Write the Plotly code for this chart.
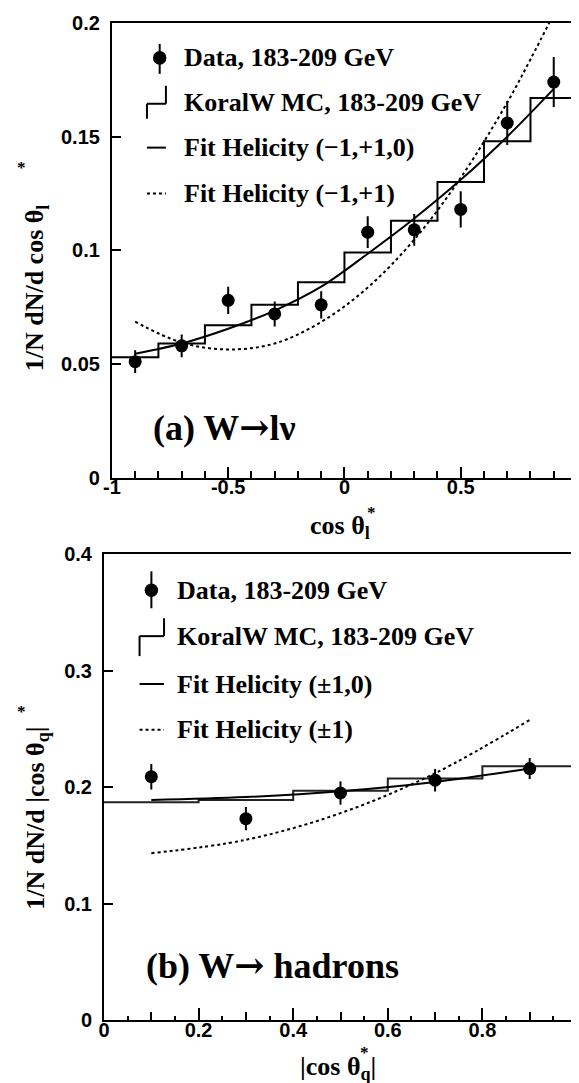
import plotly.graph_objects as go

# ---------------- data: panel (a) W -> l nu ----------------
a_x = [-0.9, -0.7, -0.5, -0.3, -0.1, 0.1, 0.3, 0.5, 0.7, 0.9]
a_data = [0.051, 0.058, 0.078, 0.072, 0.076, 0.108, 0.109, 0.118, 0.156, 0.174]
a_err = [0.005, 0.005, 0.006, 0.0055, 0.006, 0.007, 0.007, 0.008, 0.0097, 0.011]
a_edges = [-1.0, -0.8, -0.6, -0.4, -0.2, 0.0, 0.2, 0.4, 0.6, 0.8, 1.0]
a_mc = [0.053, 0.059, 0.067, 0.076, 0.086, 0.099, 0.113, 0.130, 0.148, 0.167]
a_fit3 = [0.0545, 0.059, 0.0655, 0.0735, 0.084, 0.0985, 0.114, 0.131, 0.150, 0.171]
a_fit2_x = [-0.9, -0.7, -0.5, -0.3, -0.1, 0.1, 0.3, 0.5, 0.7, 0.8, 0.9]
a_fit2 = [0.0686, 0.0594, 0.0564, 0.0590, 0.0685, 0.0836, 0.1047, 0.1319, 0.165, 0.184, 0.204]

# ---------------- data: panel (b) W -> hadrons ----------------
b_x = [0.1, 0.3, 0.5, 0.7, 0.9]
b_data = [0.209, 0.173, 0.195, 0.206, 0.216]
b_err = [0.011, 0.010, 0.010, 0.0097, 0.009]
b_edges = [0.0, 0.2, 0.4, 0.6, 0.8, 1.0]
b_mc = [0.187, 0.189, 0.197, 0.2075, 0.218]
b_fit2 = [0.189, 0.1915, 0.1965, 0.2045, 0.216]
b_fit1 = [0.1433, 0.1548, 0.1777, 0.212, 0.2578]

a_ticks = [-1, -0.5, 0, 0.5, 1]
a_ticktext = ["-1", "-0.5", "0", "0.5", "1"]
a_yticks = [0, 0.05, 0.1, 0.15, 0.2]
a_yticktext = ["0", "0.05", "0.1", "0.15", "0.2"]
b_ticks = [0, 0.2, 0.4, 0.6, 0.8, 1]
b_ticktext = ["0", "0.2", "0.4", "0.6", "0.8", "1"]
b_yticks = [0, 0.1, 0.2, 0.3, 0.4]
b_yticktext = ["0", "0.1", "0.2", "0.3", "0.4"]

# ---------------- geometry (pixels) ----------------
W, H = 579, 1083
ML, MR, MT, MB = 96, 4, 12, 71
PW, PH = W - ML - MR, H - MT - MB


def px(X):
    return (X - ML) / PW


def py(Y):
    return (H - MB - Y) / PH


SERIF = "Liberation Serif"
SANS = "Liberation Sans"
ARROW = '<span style="font-family:DejaVu Serif">\u2192</span>'

fig = go.Figure()


def hist_xy(edges, vals):
    return list(edges), list(vals) + [vals[-1]]


# panel (a)
hx, hy = hist_xy(a_edges, a_mc)
fig.add_trace(go.Scatter(x=hx, y=hy, mode="lines", line=dict(color="black", width=2, shape="hv"),
                         xaxis="x", yaxis="y", showlegend=False, hoverinfo="skip"))
fig.add_trace(go.Scatter(x=a_x, y=a_fit3, mode="lines", line=dict(color="black", width=2, shape="spline"),
                         xaxis="x", yaxis="y", showlegend=False))
fig.add_trace(go.Scatter(x=a_fit2_x, y=a_fit2, mode="lines",
                         line=dict(color="black", width=2, dash="3px,3px", shape="spline"),
                         xaxis="x", yaxis="y", showlegend=False))
fig.add_trace(go.Scatter(x=a_x, y=a_data, mode="markers", marker=dict(color="black", size=13),
                         error_y=dict(type="data", array=a_err, thickness=2, width=0, color="black"),
                         xaxis="x", yaxis="y", showlegend=False))

# panel (b)
hx, hy = hist_xy(b_edges, b_mc)
fig.add_trace(go.Scatter(x=hx, y=hy, mode="lines", line=dict(color="#222222", width=2, shape="hv"),
                         xaxis="x2", yaxis="y2", showlegend=False, hoverinfo="skip"))
fig.add_trace(go.Scatter(x=b_x, y=b_fit2, mode="lines", line=dict(color="black", width=2, shape="spline"),
                         xaxis="x2", yaxis="y2", showlegend=False))
fig.add_trace(go.Scatter(x=b_x, y=b_fit1, mode="lines",
                         line=dict(color="black", width=2, dash="3px,3px", shape="spline"),
                         xaxis="x2", yaxis="y2", showlegend=False))
fig.add_trace(go.Scatter(x=b_x, y=b_data, mode="markers", marker=dict(color="black", size=13),
                         error_y=dict(type="data", array=b_err, thickness=2, width=0, color="black"),
                         xaxis="x2", yaxis="y2", showlegend=False))
fig.add_trace(go.Scatter(x=[], y=[], xaxis="x3", yaxis="y2", showlegend=False))

tickfont = dict(family=SANS, size=20, color="black", weight="bold")
common = dict(showline=True, mirror=True, linewidth=2, linecolor="black", showgrid=False,
              zeroline=False, ticks="inside", tickcolor="black", tickwidth=1.5, tickfont=tickfont,
              ticklabeloverflow="allow")

top_y0 = py(468)
bot_y1 = py(545)

fig.update_layout(
    width=W, height=H, margin=dict(l=ML, r=MR, t=MT, b=MB),
    paper_bgcolor="white", plot_bgcolor="white", showlegend=False,
    xaxis=dict(domain=[px(104), 1], anchor="y", range=[-1, 1], tickvals=a_ticks, ticktext=a_ticktext,
               ticklen=11, minor=dict(dtick=0.1, ticklen=7, ticks="inside", tickcolor="black", tickwidth=1.5),
               ticklabelstandoff=-10, **common),
    yaxis=dict(domain=[top_y0, 1], anchor="x", range=[0, 0.2], tickvals=a_yticks, ticktext=a_yticktext,
               ticklen=9, ticklabelstandoff=6, **common),
    xaxis2=dict(domain=[0, 1], anchor="y2", range=[0, 1], tickvals=b_ticks, ticktext=b_ticktext,
                ticklen=12, minor=dict(dtick=0.1, ticklen=8, ticks="inside", tickcolor="black", tickwidth=1.5),
                ticklabelstandoff=-9, **common),
    xaxis3=dict(overlaying="x2", anchor="y2", range=[0, 1], dtick=0.05, ticks="inside", ticklen=4,
                tickwidth=1.5, tickcolor="black", showticklabels=False, showline=False, showgrid=False,
                zeroline=False),
    yaxis2=dict(domain=[0, bot_y1], anchor="x2", range=[0, 0.4], tickvals=b_yticks, ticktext=b_yticktext,
                ticklen=9, ticklabelstandoff=6, **common),
)

ann = []


def text(X, Y, s, size, xanchor="left", yanchor="middle", angle=0, family=SERIF):
    ann.append(dict(x=px(X), y=py(Y), xref="paper", yref="paper", text=s, showarrow=False,
                    xanchor=xanchor, yanchor=yanchor, textangle=angle,
                    font=dict(family=family, size=size, color="black")))


# legend texts
LS = 26
LX1, LX2 = 175, 168
text(LX1, 47, "<b>Data, 183-209 GeV</b>", LS)
text(LX1, 92, "<b>KoralW MC, 183-209 GeV</b>", LS)
text(LX1, 137, "<b>Fit Helicity (\u22121,+1,0)</b>", LS)
text(LX1, 183, "<b>Fit Helicity (\u22121,+1)</b>", LS)
text(LX2, 581, "<b>Data, 183-209 GeV</b>", LS)
text(LX2, 627, "<b>KoralW MC, 183-209 GeV</b>", LS)
text(LX2, 675, "<b>Fit Helicity (\u00b11,0)</b>", LS)
text(LX2, 721, "<b>Fit Helicity (\u00b11)</b>", LS)

# panel labels
text(144, 417, "<b>(a) W" + ARROW + "l\u03bd</b>", 36)
text(137, 957, "<b>(b) W" + ARROW + " hadrons</b>", 36)

# axis titles
text(303, 518, "<b>cos \u03b8<sub>l</sub></b>", 26)
text(367, 503, "<b>*</b>", 17, xanchor="center")
text(292, 1060, "<b>|cos \u03b8<sub>q</sub>|</b>", 26)
text(360, 1045, "<b>*</b>", 17, xanchor="center")
text(28, 363, "<b>1/N dN/d cos \u03b8<sub>l</sub></b>", 26, xanchor="center", yanchor="bottom", angle=-90)
text(12, 157, "<b>*</b>", 17, xanchor="center")
text(28, 903, "<b>1/N dN/d |cos \u03b8<sub>q</sub>|</b>", 26, xanchor="center", yanchor="bottom", angle=-90)
text(12, 703, "<b>*</b>", 17, xanchor="center")

fig.update_layout(annotations=ann)

# legend symbols (shapes in paper coords)
shapes = []


def seg(X0, Y0, X1, Y1, dash="solid"):
    shapes.append(dict(type="line", xref="paper", yref="paper", x0=px(X0), y0=py(Y0), x1=px(X1), y1=py(Y1),
                       line=dict(color="black", width=2, dash=dash)))


def dot(X, Y, r=6.8):
    shapes.append(dict(type="circle", xref="paper", yref="paper", x0=px(X - r), x1=px(X + r),
                       y0=py(Y + r), y1=py(Y - r), fillcolor="black", line=dict(color="black", width=0)))


# top legend
seg(152.4, 33, 152.4, 63)
dot(152.4, 47)
seg(158.7, 75, 158.7, 93)
seg(139.5, 93, 158.7, 93)
seg(139.5, 93, 139.5, 108)
seg(139.5, 137, 158.7, 137)
seg(139.5, 183, 158.7, 183, dash="3px,3px")
# bottom legend
seg(144, 562, 144, 599)
dot(144, 581)
seg(156.8, 609, 156.8, 627)
seg(132, 627, 156.8, 627)
seg(132, 627, 132, 647)
seg(132, 675, 156.8, 675)
seg(132, 721, 156.8, 721, dash="3px,3px")

fig.update_layout(shapes=shapes)

fig.write_html("out.html")
